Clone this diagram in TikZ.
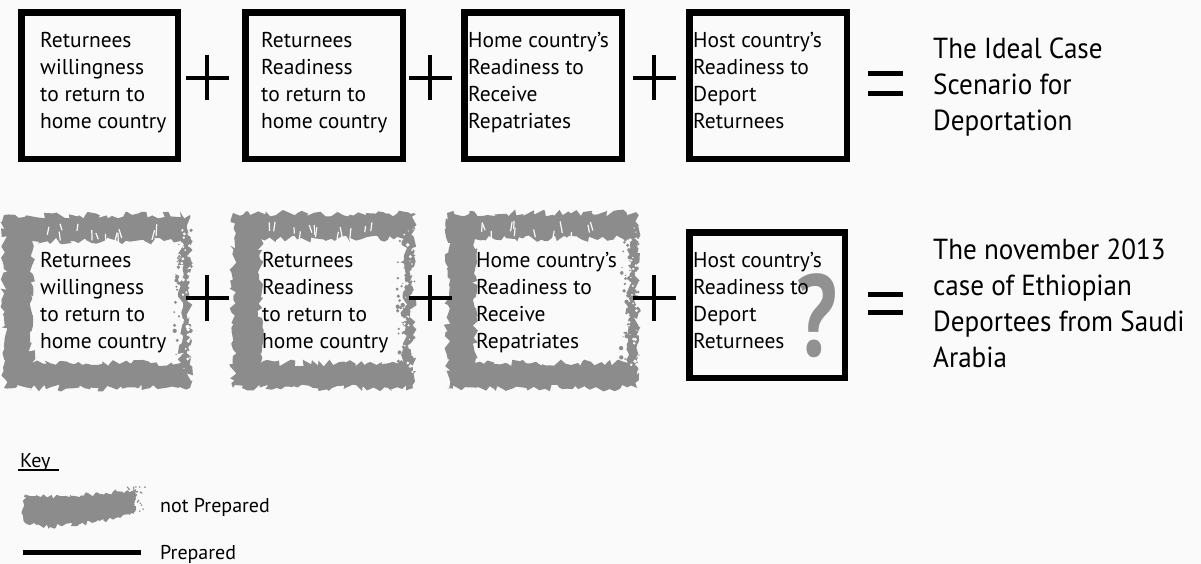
\documentclass[tikz,border=0pt]{standalone}
\usepackage{fontspec}
\setmainfont{PT Sans}
\newfontfamily\narrowfont[FakeStretch=0.935]{PT Sans}
\usetikzlibrary{decorations.pathmorphing}
\definecolor{bg}{RGB}{250,250,250}
\definecolor{rough}{RGB}{140,140,140}
\definecolor{qgray}{RGB}{145,145,145}
\newcommand{\roughframe}[4]{% x0 y0 x1 y1
  \fill[rough, even odd rule, decorate,
        decoration={random steps, segment length=4pt, amplitude=3.5pt}]
    (#1,#2) rectangle (#3,#4)
    ({#1+28},{#2+26}) rectangle ({#3-9},{#4-25});
  \foreach \k in {1,...,60}{
    \pgfmathsetmacro\sx{#3-16+rnd*18}
    \pgfmathsetmacro\sy{#2+15+rnd*(#4-#2-30)}
    \pgfmathsetmacro\sr{0.6+rnd*1.6}
    \fill[rough] (\sx,\sy) circle[radius=\sr pt];
  }
  \foreach \k in {1,...,30}{
    \pgfmathsetmacro\sx{#3-9+rnd*9}
    \pgfmathsetmacro\sy{#2+15+rnd*(#4-#2-30)}
    \pgfmathsetmacro\sr{0.6+rnd*1.4}
    \fill[bg] (\sx,\sy) circle[radius=\sr pt];
  }
  \foreach \k in {1,...,12}{
    \pgfmathsetmacro\sx{#1+35+rnd*(#3-#1-60)}
    \pgfmathsetmacro\sy{#2+7+rnd*12}
    \pgfmathsetmacro\dx{-3+rnd*6}
    \draw[bg, line width=1.2pt] (\sx,\sy) -- ++(\dx,{6+rnd*6});
  }
}
\begin{document}
\begin{tikzpicture}[x=1pt,y=-1pt,
  blackbox/.style={draw=black, line width=6.5pt, inner sep=0pt, anchor=north west},
  boxtext/.style={anchor=north west, inner sep=0pt, align=left,
                  font=\fontsize{21.5}{27}\selectfont},
  bigtext/.style={anchor=north west, inner sep=0pt, align=left,
                  font=\narrowfont\fontsize{29}{36}\selectfont},
  keytext/.style={anchor=north west, inner sep=0pt, font=\fontsize{20}{23}\selectfont},
  opsign/.style={line width=4.5pt}]
\pgfmathsetseed{17}
\fill[bg] (0,0) rectangle (1201,564);
\useasboundingbox (0,0) rectangle (1201,564);

% ---------- top row ----------
\node[blackbox, minimum width=156.5pt, minimum height=146.5pt] (t1) at (18.25,9.25) {};
\node[blackbox, minimum width=157.5pt, minimum height=146.5pt] (t2) at (242.25,9.25) {};
\node[blackbox, minimum width=157.5pt, minimum height=146.5pt] (t3) at (461.25,9.25) {};
\node[blackbox, minimum width=157.5pt, minimum height=146.5pt] (t4) at (686.25,9.25) {};

\node[boxtext] (tt1) at (40,32) {Returnees\\willingness\\to return to\\home country};
\node[boxtext] (tt2) at (261,32) {Returnees\\Readiness\\to return to\\home country};
\node[boxtext] (tt3) at (468,32) {Home country’s\\Readiness to\\Receive\\Repatriates};
\node[boxtext] (tt4) at (693,32) {Host country’s\\Readiness to\\Deport\\Returnees};

\foreach \cx in {207,430,654}{
  \draw[opsign] (\cx-21.5,78) -- (\cx+21.5,78);
  \draw[opsign] (\cx,55) -- (\cx,100);
}
\draw[line width=5pt] (868,73.5) -- (903,73.5) (868,93.5) -- (903,93.5);
\node[bigtext] (ideal) at (933,38) {The Ideal Case\\Scenario for\\Deportation};

% ---------- bottom row ----------
\roughframe{4}{215}{190}{388}
\roughframe{233}{213}{413}{388}
\roughframe{447}{213}{637}{388}

\node[blackbox, minimum width=155.5pt, minimum height=145.5pt] (b4) at (686.25,229.25) {};
\node[font=\bfseries\fontsize{116}{116}\selectfont, text=qgray, inner sep=0pt, xscale=0.78] (qm) at (817,316) {?};

\node[boxtext] (bt1) at (40,252) {Returnees\\willingness\\to return to\\home country};
\node[boxtext] (bt2) at (262,252) {Returnees\\Readiness\\to return to\\home country};
\node[boxtext] (bt3) at (476,252) {Home country’s\\Readiness to\\Receive\\Repatriates};
\node[boxtext] (bt4) at (693,252) {Host country’s\\Readiness to\\Deport\\Returnees};

\foreach \cx in {207,430,654}{
  \draw[opsign] (\cx-21.5,298) -- (\cx+21.5,298);
  \draw[opsign] (\cx,275) -- (\cx,321);
}
\draw[line width=5pt] (868,294) -- (903,294) (868,312) -- (903,312);
\node[bigtext] (nov) at (933,239) {The november 2013\\case of Ethiopian\\Deportees from Saudi\\Arabia};

% ---------- key ----------
\node[keytext] (key) at (20,453) {Key};
\draw[line width=1.3pt] (18,470) -- (59,470);
\fill[rough, decorate, decoration={random steps, segment length=2.5pt, amplitude=2.5pt}]
  (24,497) -- (60,496) -- (100,494) -- (128,490) -- (136,489)
  -- (136,510) -- (120,518) -- (80,524) -- (50,527) -- (24,522) -- cycle;
\foreach \k in {1,...,35}{
  \pgfmathsetmacro\sx{126+rnd*19}
  \pgfmathsetmacro\sy{486+rnd*28}
  \fill[rough] (\sx,\sy) circle[radius=0.9pt];
}
\node[keytext] (np) at (160,498) {not Prepared};
\draw[line width=5pt] (23,552) -- (141,552);
\node[keytext] (pr) at (160,545) {Prepared};
\end{tikzpicture}
\end{document}
